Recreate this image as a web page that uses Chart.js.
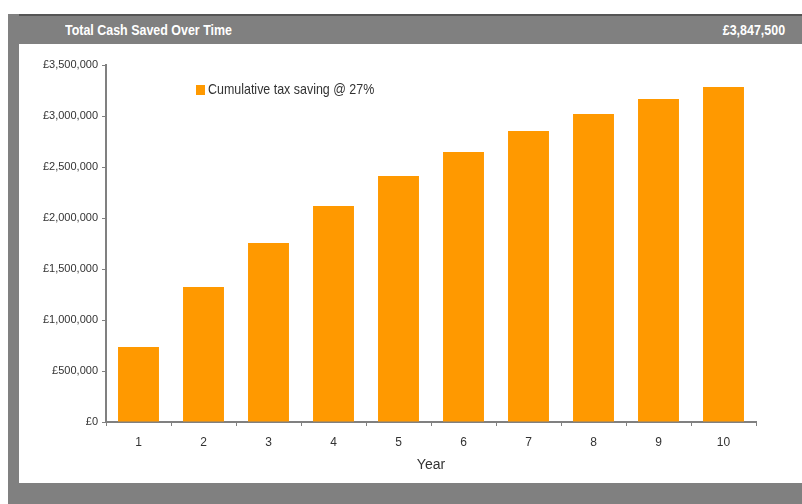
<!DOCTYPE html>
<html>
<head>
<meta charset="UTF-8">
<title>Total Cash Saved Over Time</title>
<style>
  html, body { margin: 0; padding: 0; background: #fff; }
  body { width: 802px; height: 504px; position: relative; overflow: hidden;
         font-family: "Liberation Sans Narrow", "Arial Narrow", "Liberation Sans", Arial, sans-serif; }
  .frame { position: absolute; left: 8px; top: 14px; width: 794px; height: 490px; background: #808080; }
  .topline { position: absolute; left: 19px; top: 14px; width: 783px; height: 2px; background: #555; }
  .title { position: absolute; left: 65px; top: 21px; color: #fff; font-weight: bold; font-size: 15px;
           transform: scaleX(0.83); transform-origin: left center; }
  .total { position: absolute; right: 17px; top: 21px; color: #fff; font-weight: bold; font-size: 15px;
           transform: scaleX(0.83); transform-origin: right center; }
  .panel { position: absolute; left: 19px; top: 44px; width: 783px; height: 439px; background: #fff; }
  .legend { position: absolute; left: 196px; top: 80px; font-size: 15px; color: #333; white-space: nowrap; }
  .legend span { display: inline-block; width: 9px; height: 10px; margin-right: 3px; vertical-align: -1px; }
  .legend em { font-style: normal; display: inline-block; transform: scaleX(0.83); transform-origin: left center; }
</style>
</head>
<body>
<div class="frame"></div>
<div class="topline"></div>
<div class="title">Total Cash Saved Over Time</div>
<div class="total">£3,847,500</div>
<div class="panel"><canvas id="cashChart" width="783" height="439"></canvas></div>
<div class="legend" id="legend"></div>

<script src="https://cdn.jsdelivr.net/npm/chart.js"></script>
<script>
  // Dữ liệu biểu đồ
  const years = ['1', '2', '3', '4', '5', '6', '7', '8', '9', '10'];
  const cumulativeSaving = [735000, 1323000, 1755000, 2118000, 2412000, 2647000, 2853000, 3020000, 3167000, 3284000];
  const seriesLabel = 'Cumulative tax saving @ 27%';
  const barColor = '#ff9900';
  const axisColor = '#808080';

  const gbp = (v) => '£' + Number(v).toLocaleString('en-GB');

  document.getElementById('legend').innerHTML =
    '<span style="background:' + barColor + '"></span><em>' + seriesLabel + '</em>';

  const fontFamily = '"Liberation Sans Narrow", "Arial Narrow", "Liberation Sans", Arial, sans-serif';

  new Chart(document.getElementById('cashChart').getContext('2d'), {
    type: 'bar',
    data: {
      labels: years,
      datasets: [{
        label: seriesLabel,
        data: cumulativeSaving,
        backgroundColor: barColor,
        borderWidth: 0,
        categoryPercentage: 1,
        barPercentage: 0.63
      }]
    },
    options: {
      responsive: false,
      animation: false,
      layout: { padding: { top: 21, right: 46, bottom: 0, left: 0 } },
      plugins: {
        legend: { display: false },
        tooltip: { enabled: false }
      },
      scales: {
        x: {
          grid: { display: true, drawOnChartArea: false, color: axisColor, tickLength: 4, offset: true },
          border: { color: axisColor, width: 2 },
          ticks: { color: '#333', font: { family: fontFamily, size: 12 }, padding: 9 },
          title: { display: true, text: 'Year', color: '#333', font: { family: fontFamily, size: 14 }, padding: { top: 0, bottom: 9 } },
          afterFit: (scale) => { scale.height = 61; }
        },
        y: {
          min: 0,
          max: 3500000,
          grid: { display: true, drawOnChartArea: false, color: axisColor, tickLength: 4 },
          border: { color: axisColor, width: 2 },
          ticks: {
            stepSize: 500000,
            color: '#333',
            font: { family: fontFamily, size: 11 },
            padding: 4,
            callback: (v) => gbp(v)
          },
          afterFit: (scale) => { scale.width = 87; }
        }
      }
    }
  });
</script>
</body>
</html>
